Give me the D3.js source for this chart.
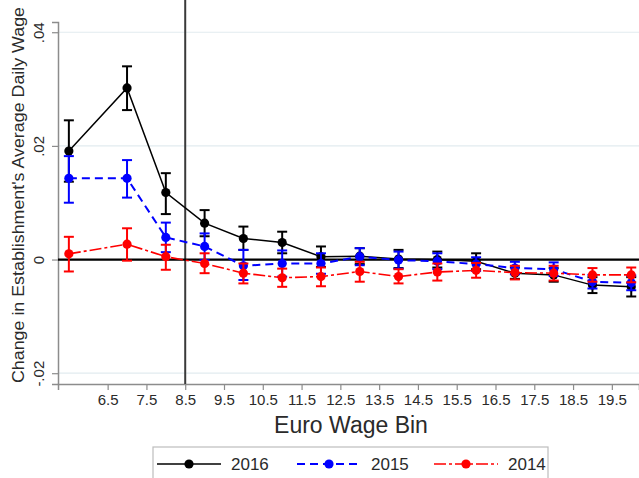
<!DOCTYPE html>
<html>
<head>
<meta charset="utf-8">
<script src="https://cdn.jsdelivr.net/npm/d3@7/dist/d3.min.js"></script>
<style>
  html, body { margin: 0; padding: 0; background: #fff; }
  svg { display: block; }
  text { font-family: "Liberation Sans", Arial, Helvetica, sans-serif; fill: #2a2a2a; }
</style>
</head>
<body>
<svg id="chart" width="639" height="478"></svg>
<script>
// Wage bins (euro) at which each coefficient is estimated
const bins = [5.5, 7, 8, 9, 10, 11, 12, 13, 14, 15, 16, 17, 18, 19, 20];

// 2016 estimates with 95% confidence bounds
const est2016 = [0.0191, 0.0302, 0.0118, 0.0064, 0.0037, 0.0030, 0.0005, 0.0006, 0.0001, 0.0000, -0.0003, -0.0024, -0.0027, -0.0045, -0.0048];
const lo2016  = [0.0137, 0.0263, 0.0080, 0.0041, 0.0017, 0.0011, -0.0013, -0.0008, -0.0015, -0.0014, -0.0017, -0.0034, -0.0039, -0.0059, -0.0065];
const hi2016  = [0.0245, 0.0340, 0.0152, 0.0087, 0.0058, 0.0049, 0.0023, 0.0020, 0.0017, 0.0014, 0.0011, -0.0014, -0.0015, -0.0031, -0.0031];

// 2015 estimates with 95% confidence bounds
const est2015 = [0.0143, 0.0143, 0.0039, 0.0023, -0.0011, -0.0007, -0.0007, 0.0005, -0.0001, -0.0003, -0.0008, -0.0015, -0.0017, -0.0039, -0.0041];
const lo2015  = [0.0100, 0.0109, 0.0013, -0.0001, -0.0036, -0.0030, -0.0025, -0.0010, -0.0016, -0.0017, -0.0020, -0.0026, -0.0029, -0.0051, -0.0054];
const hi2015  = [0.0182, 0.0175, 0.0065, 0.0046, 0.0017, 0.0016, 0.0011, 0.0020, 0.0014, 0.0011, 0.0004, -0.0004, -0.0005, -0.0027, -0.0028];

// 2014 estimates with 95% confidence bounds
const est2014 = [0.0010, 0.0027, 0.0005, -0.0007, -0.0024, -0.0032, -0.0030, -0.0021, -0.0030, -0.0022, -0.0019, -0.0023, -0.0024, -0.0027, -0.0027];
const lo2014  = [-0.0021, -0.0002, -0.0018, -0.0024, -0.0042, -0.0048, -0.0047, -0.0039, -0.0042, -0.0037, -0.0032, -0.0035, -0.0037, -0.0039, -0.0040];
const hi2014  = [0.0040, 0.0055, 0.0026, 0.0011, -0.0007, -0.0016, -0.0014, -0.0004, -0.0017, -0.0007, -0.0006, -0.0011, -0.0011, -0.0015, -0.0014];

// Axis ticks and labels
const xTicks = [6.5, 7.5, 8.5, 9.5, 10.5, 11.5, 12.5, 13.5, 14.5, 15.5, 16.5, 17.5, 18.5, 19.5];
const yTicks = [-0.02, 0, 0.02, 0.04];
const yTickLabels = ["-.02", "0", ".02", ".04"];
const cutoff = 8.5;

const seriesNames = ["2016", "2015", "2014"];
const seriesColors = ["#000000", "#0000ff", "#ff0000"];
const seriesDash = [null, "8,5", "12,3,3,3"];

const series = [
  { name: seriesNames[0], est: est2016, lo: lo2016, hi: hi2016, color: seriesColors[0], dash: seriesDash[0], width: 1.5 },
  { name: seriesNames[1], est: est2015, lo: lo2015, hi: hi2015, color: seriesColors[1], dash: seriesDash[1], width: 2 },
  { name: seriesNames[2], est: est2014, lo: lo2014, hi: hi2014, color: seriesColors[2], dash: seriesDash[2], width: 1.6 }
];

const svg = d3.select("#chart");
const plotLeft = 58, plotRight = 639, plotTop = 22, plotBottom = 384;

const x = d3.scaleLinear().domain([5.22, 20.2]).range([plotLeft, plotRight]);
const y = d3.scaleLinear().domain([-0.0219, 0.0418]).range([plotBottom, plotTop]);

// Light horizontal gridlines
svg.append("g").selectAll("line").data(yTicks).join("line")
  .attr("x1", plotLeft).attr("x2", plotRight)
  .attr("y1", d => y(d)).attr("y2", d => y(d))
  .attr("stroke", "#e2ebef").attr("stroke-width", 1.2);

// Axes
const xAxis = svg.append("g")
  .attr("transform", `translate(0,${plotBottom})`)
  .call(d3.axisBottom(x).tickValues(xTicks).tickSize(6).tickPadding(4).tickFormat(d3.format(".1f")));
xAxis.select(".domain").attr("stroke", "#8c8c8c").attr("stroke-width", 1.5);
xAxis.selectAll(".tick line").attr("stroke", "#8c8c8c").attr("stroke-width", 1.2);
xAxis.selectAll(".tick text").attr("font-size", 15).attr("fill", "#2a2a2a")
  .attr("font-family", "Liberation Sans, Arial, sans-serif");

const yAxis = svg.append("g")
  .attr("transform", `translate(${plotLeft},0)`)
  .call(d3.axisLeft(y).tickValues(yTicks).tickSize(6).tickFormat((d, i) => yTickLabels[i]));
yAxis.select(".domain").attr("stroke", "#8c8c8c").attr("stroke-width", 1.5);
yAxis.selectAll(".tick line").attr("stroke", "#8c8c8c").attr("stroke-width", 1.2);
yAxis.selectAll(".tick text")
  .attr("font-size", 15).attr("fill", "#2a2a2a")
  .attr("font-family", "Liberation Sans, Arial, sans-serif")
  .attr("x", null).attr("dy", null)
  .attr("text-anchor", "middle")
  .attr("transform", "translate(-14,0) rotate(-90)");

// Reference lines: minimum-wage cutoff and zero
svg.append("line")
  .attr("x1", x(cutoff)).attr("x2", x(cutoff))
  .attr("y1", 0).attr("y2", plotBottom)
  .attr("stroke", "#3a3a3a").attr("stroke-width", 2);
svg.append("line")
  .attr("x1", plotLeft).attr("x2", plotRight)
  .attr("y1", y(0)).attr("y2", y(0))
  .attr("stroke", "#000").attr("stroke-width", 2.2);

// Series: connecting line, error bars with caps, markers
const capHalf = 5;
series.forEach(s => {
  const g = svg.append("g");
  const pts = bins.map((b, i) => ({ b, v: s.est[i], lo: s.lo[i], hi: s.hi[i] }));
  g.append("path")
    .datum(pts)
    .attr("fill", "none")
    .attr("stroke", s.color)
    .attr("stroke-width", s.width)
    .attr("stroke-dasharray", s.dash)
    .attr("d", d3.line().x(d => x(d.b)).y(d => y(d.v)));
  const eb = g.selectAll("g.eb").data(pts).join("g").attr("class", "eb");
  eb.append("line")
    .attr("x1", d => x(d.b)).attr("x2", d => x(d.b))
    .attr("y1", d => y(d.lo)).attr("y2", d => y(d.hi))
    .attr("stroke", s.color).attr("stroke-width", 2);
  eb.append("line")
    .attr("x1", d => x(d.b) - capHalf).attr("x2", d => x(d.b) + capHalf)
    .attr("y1", d => y(d.hi)).attr("y2", d => y(d.hi))
    .attr("stroke", s.color).attr("stroke-width", 2);
  eb.append("line")
    .attr("x1", d => x(d.b) - capHalf).attr("x2", d => x(d.b) + capHalf)
    .attr("y1", d => y(d.lo)).attr("y2", d => y(d.lo))
    .attr("stroke", s.color).attr("stroke-width", 2);
  g.selectAll("circle").data(pts).join("circle")
    .attr("cx", d => x(d.b)).attr("cy", d => y(d.v))
    .attr("r", 4.6).attr("fill", s.color);
});

// Axis titles
svg.append("text")
  .attr("x", 351).attr("y", 433)
  .attr("text-anchor", "middle")
  .attr("font-size", 23)
  .text("Euro Wage Bin");

svg.append("text")
  .attr("transform", "translate(24,195) rotate(-90)")
  .attr("text-anchor", "middle")
  .attr("font-size", 16.5)
  .attr("textLength", 376)
  .attr("lengthAdjust", "spacingAndGlyphs")
  .text("Change in Establishment's Average Daily Wage");

// Legend
const legend = svg.append("g");
legend.append("rect")
  .attr("x", 153).attr("y", 447).attr("width", 395).attr("height", 45)
  .attr("fill", "#fff").attr("stroke", "#bdbdbd").attr("stroke-width", 1.2);
const legendX = [157, 297, 434];
const legendY = 464;
series.forEach((s, i) => {
  const lx = legendX[i];
  legend.append("line")
    .attr("x1", lx).attr("x2", lx + 64)
    .attr("y1", legendY).attr("y2", legendY)
    .attr("stroke", s.color).attr("stroke-width", s.width)
    .attr("stroke-dasharray", s.dash);
  legend.append("circle")
    .attr("cx", lx + 32).attr("cy", legendY).attr("r", 4.6).attr("fill", s.color);
  legend.append("text")
    .attr("x", lx + 74).attr("y", legendY + 6)
    .attr("font-size", 17)
    .text(s.name);
});
</script>
</body>
</html>
